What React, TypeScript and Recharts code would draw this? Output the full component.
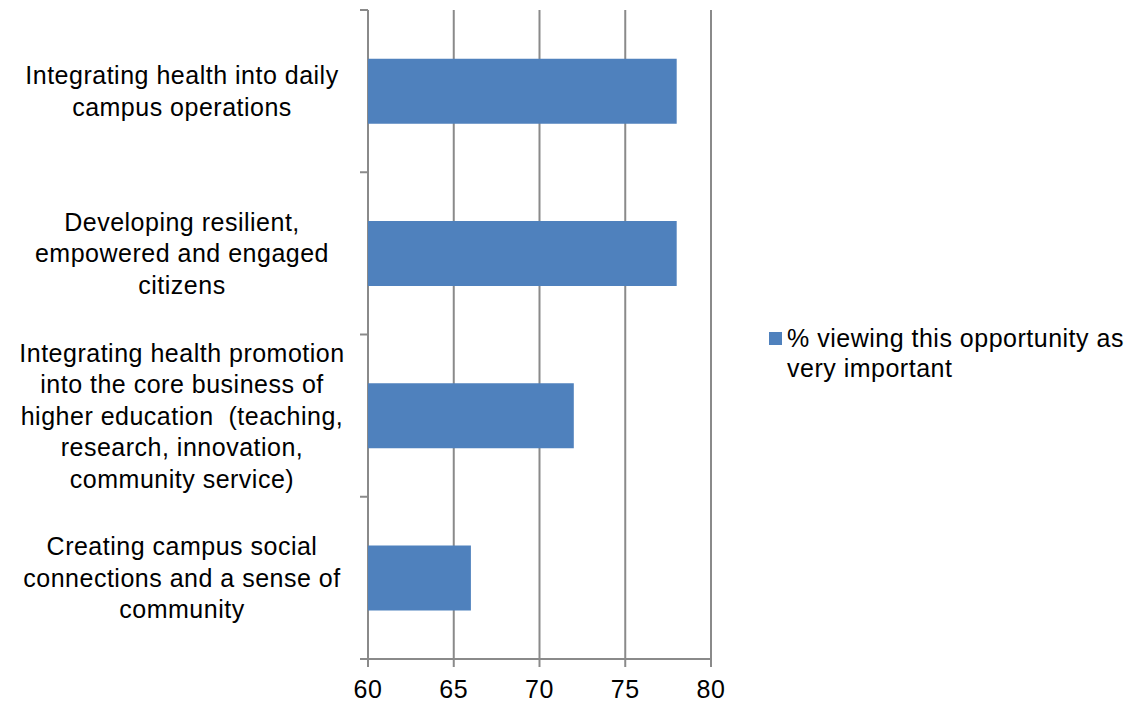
import { Bar, BarChart, CartesianGrid, Legend, XAxis, YAxis } from "recharts";

const categories = [
  "Integrating health into daily\ncampus operations",
  "Developing resilient,\nempowered and engaged\ncitizens",
  "Integrating health promotion\ninto the core business of\nhigher education  (teaching,\nresearch, innovation,\ncommunity service)",
  "Creating campus social\nconnections and a sense of\ncommunity",
];
const veryImportant = [78, 78, 72, 66];
const xTicks = [60, 65, 70, 75, 80];
const seriesName = "% viewing this opportunity as very important";

const BAR_COLOR = "#4F81BD";
const AXIS_COLOR = "#8a8a8a";
const FONT_SIZE = 25;
const LETTER_SPACING = 0.5;
const LABEL_CENTER = 182;
const LINE_HEIGHT = 31.5;
const TICK_LEN = 8;

const data = categories.map((category, i) => ({
  category,
  value: veryImportant[i],
}));

// Excel puts the category tick marks on the band boundaries, not the centres,
// so each label also draws the mark at the top of its band (and the last one
// closes the bottom). payload.offset is half the band width.
function CategoryTick({ x, y, payload }: any) {
  const lines = String(payload.value).split("\n");
  const half = payload.offset ?? 0;
  const isLast = payload.index === categories.length - 1;
  const top = y - ((lines.length - 1) * LINE_HEIGHT) / 2;
  return (
    <g>
      <line
        x1={x}
        x2={x + TICK_LEN}
        y1={y - half}
        y2={y - half}
        stroke={AXIS_COLOR}
        strokeWidth={2}
      />
      {isLast && (
        <line
          x1={x}
          x2={x + TICK_LEN}
          y1={y + half}
          y2={y + half}
          stroke={AXIS_COLOR}
          strokeWidth={2}
        />
      )}
      <text
        x={LABEL_CENTER}
        y={top}
        textAnchor="middle"
        fontSize={FONT_SIZE}
        fill="#000"
        letterSpacing={LETTER_SPACING}
        style={{ whiteSpace: "pre" }}
      >
        {lines.map((line, i) => (
          <tspan key={i} x={LABEL_CENTER} y={top + i * LINE_HEIGHT} dy="0.36em">
            {line}
          </tspan>
        ))}
      </text>
    </g>
  );
}

function LegendContent({ payload }: any) {
  return (
    <div>
      {(payload ?? []).map((entry: any) => (
        <div key={entry.value} style={{ display: "flex", alignItems: "flex-start" }}>
          <span
            style={{
              width: 13,
              height: 13,
              background: entry.color,
              marginTop: 9,
              marginRight: 5,
              flexShrink: 0,
            }}
          />
          <span
            style={{
              fontSize: FONT_SIZE,
              lineHeight: "30px",
              width: 345,
              letterSpacing: LETTER_SPACING,
              color: "#000",
            }}
          >
            {entry.value}
          </span>
        </div>
      ))}
    </div>
  );
}

export default function App() {
  return (
    <div style={{ fontFamily: "'Liberation Sans', Arial, sans-serif", background: "#fff" }}>
      <style>{"body{margin:0}"}</style>
      <BarChart
        width={1136}
        height={704}
        data={data}
        layout="vertical"
        barCategoryGap="30%"
        margin={{ top: 10, right: 425, bottom: 0, left: 0 }}
      >
        <CartesianGrid
          horizontal={false}
          vertical
          stroke={AXIS_COLOR}
          strokeWidth={2}
        />
        <XAxis
          type="number"
          domain={[60, 80]}
          ticks={xTicks}
          height={45}
          tickSize={TICK_LEN}
          tickMargin={13}
          axisLine={{ stroke: AXIS_COLOR, strokeWidth: 2 }}
          tickLine={{ stroke: AXIS_COLOR, strokeWidth: 2 }}
          tick={{ fill: "#000", fontSize: FONT_SIZE, letterSpacing: LETTER_SPACING }}
        />
        <YAxis
          type="category"
          dataKey="category"
          width={368}
          tickSize={TICK_LEN}
          tickMargin={0}
          axisLine={false}
          tickLine={false}
          interval={0}
          tick={<CategoryTick />}
        />
        <Bar
          dataKey="value"
          name={seriesName}
          fill={BAR_COLOR}
          isAnimationActive={false}
        />
        <Legend
          layout="vertical"
          align="center"
          verticalAlign="middle"
          wrapperStyle={{ left: 769, top: 323, width: 367 }}
          content={<LegendContent />}
        />
      </BarChart>
    </div>
  );
}
